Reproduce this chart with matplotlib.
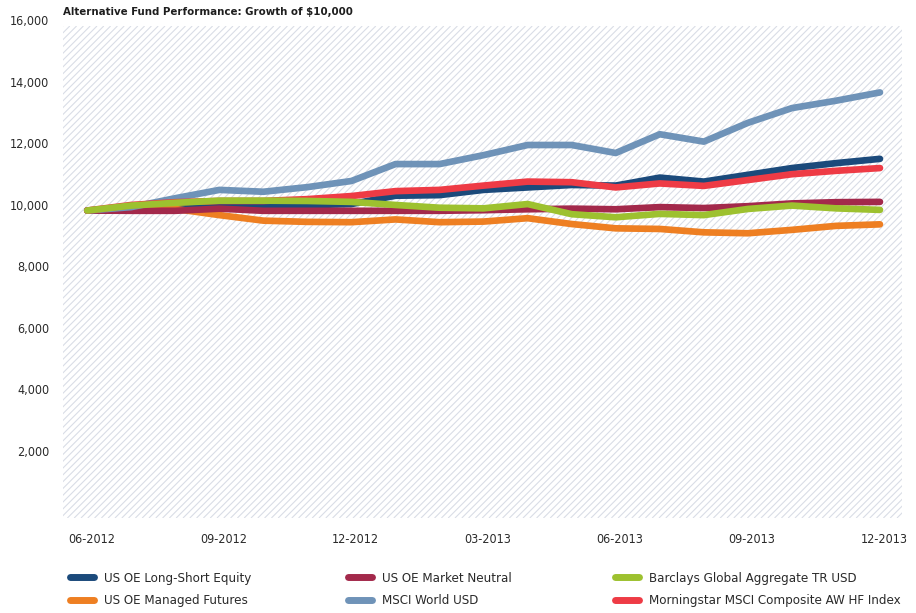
import matplotlib
matplotlib.use("Agg")
import matplotlib.pyplot as plt
import matplotlib.transforms as mtransforms
from matplotlib import font_manager as fm
from matplotlib.collections import LineCollection
from matplotlib.lines import Line2D
import numpy as np

# ── data (growth of $10,000, month-end values) ───────────────────────────────
months = ["06-2012", "07-2012", "08-2012", "09-2012", "10-2012", "11-2012",
          "12-2012", "01-2013", "02-2013", "03-2013", "04-2013", "05-2013",
          "06-2013", "07-2013", "08-2013", "09-2013", "10-2013", "11-2013",
          "12-2013"]

long_short_equity = [10000, 10010, 10080, 10180, 10150, 10170, 10210, 10480, 10500, 10670,
                     10750, 10830, 10810, 11070, 10940, 11160, 11380, 11540, 11680]
managed_futures   = [10000, 10080, 10050, 9850, 9670, 9630, 9620, 9710, 9620, 9640,
                     9750, 9560, 9420, 9400, 9290, 9260, 9370, 9500, 9550]
market_neutral    = [10000, 9990, 9990, 10060, 9990, 9990, 9990, 9990, 9990, 10010,
                     10040, 10060, 10040, 10110, 10080, 10140, 10230, 10270, 10280]
msci_world        = [10000, 10110, 10400, 10670, 10610, 10760, 10960, 11510, 11510, 11800,
                     12130, 12130, 11870, 12480, 12240, 12850, 13330, 13570, 13840]
barclays_agg      = [10000, 10160, 10250, 10320, 10320, 10310, 10280, 10180, 10090, 10070,
                     10210, 9880, 9780, 9890, 9850, 10050, 10160, 10070, 10020]
ms_hf_index       = [10000, 10180, 10270, 10310, 10310, 10370, 10470, 10630, 10670, 10810,
                     10940, 10920, 10750, 10880, 10800, 10990, 11180, 11290, 11380]

series = [
    ("US OE Long-Short Equity", long_short_equity, "#1b4a7b"),
    ("US OE Managed Futures", managed_futures, "#ee7f22"),
    ("US OE Market Neutral", market_neutral, "#a3294b"),
    ("MSCI World USD", msci_world, "#6f93b8"),
    ("Morningstar MSCI Composite AW HF Index", ms_hf_index, "#ee3b45"),
    ("Barclays Global Aggregate TR USD", barclays_agg, "#9dc12f"),
]

y_ticks = [2000, 4000, 6000, 8000, 10000, 12000, 14000, 16000]
x_tick_idx = [0, 3, 6, 9, 12, 15, 18]

TEXT = "#2a2a2a"
HATCH = "#d9dde6"

# narrow sans if present, otherwise condensed DejaVu
try:
    fm.findfont(fm.FontProperties(family="Liberation Sans Narrow"), fallback_to_default=False)
    FONT = dict(family="Liberation Sans Narrow")
except ValueError:
    FONT = dict(family="DejaVu Sans", stretch="condensed")
plt.rcParams["font.family"] = FONT["family"]
if "stretch" in FONT:
    plt.rcParams["font.stretch"] = FONT["stretch"]

W, H = 916, 613
fig = plt.figure(figsize=(W / 100, H / 100), dpi=100)
ax_l, ax_r, ax_t, ax_b = 63, 902, 26, 518
ax = fig.add_axes([ax_l / W, 1 - ax_b / H, (ax_r - ax_l) / W, (ax_b - ax_t) / H])

# diagonal hatch fill of the plot area, 45 degrees in pixel space
aw, ah = ax_r - ax_l, ax_b - ax_t
step = 6.8
segs = []
for c in np.arange(-ah, aw + step, step):
    segs.append([(c / aw, 0), ((c + ah) / aw, 1)])
hatch = LineCollection(segs, colors=HATCH, linewidths=0.8, transform=ax.transAxes, zorder=0)
ax.add_collection(hatch)
hatch.set_clip_path(ax.patch)

x = np.arange(len(months))
for name, vals, col in series:
    ax.plot(x, vals, color=col, lw=4.8, solid_capstyle="round", solid_joinstyle="round",
            zorder=2)

ax.set_xlim(-0.55, 18.5)
ax.set_ylim(0, 16000)
for s in ax.spines.values():
    s.set_visible(False)

ax.set_yticks(y_ticks)
ax.set_yticklabels([f"{v:,}" for v in y_ticks])
ax.set_xticks(x_tick_idx)
ax.set_xticklabels([months[i] for i in x_tick_idx])
ax.tick_params(axis="both", length=0, colors=TEXT, labelsize=9)
ax.tick_params(axis="y", pad=10)
ax.tick_params(axis="x", pad=11)
# value labels sit a little above their level
up = mtransforms.ScaledTranslation(0, 4 / 72, fig.dpi_scale_trans)
for lab in ax.get_yticklabels():
    lab.set_transform(lab.get_transform() + up)
right = mtransforms.ScaledTranslation(3 / 72, 0, fig.dpi_scale_trans)
for lab in ax.get_xticklabels():
    lab.set_transform(lab.get_transform() + right)

fig.text(ax_l / W, 1 - 12 / H, "Alternative Fund Performance: Growth of $10,000",
         fontsize=8.2, fontweight="bold", color="#1e1e1e", va="center", ha="left")

# legend: three columns of two entries
legend_order = [
    ["US OE Long-Short Equity", "US OE Managed Futures"],
    ["US OE Market Neutral", "MSCI World USD"],
    ["Barclays Global Aggregate TR USD", "Morningstar MSCI Composite AW HF Index"],
]
colors = {name: col for name, _, col in series}
col_x = [67, 345, 612]
for cx, names in zip(col_x, legend_order):
    handles = [Line2D([], [], color=colors[n], lw=5, solid_capstyle="round") for n in names]
    leg = fig.legend(handles, names, loc="upper left",
                     bbox_to_anchor=((cx + 3) / W, 1 - 572 / H),
                     frameon=False, borderpad=0, borderaxespad=0,
                     handlelength=1.8, handletextpad=0.75, labelspacing=0.7,
                     fontsize=9.5, labelcolor=TEXT)

fig.savefig("out.png", dpi=100)
